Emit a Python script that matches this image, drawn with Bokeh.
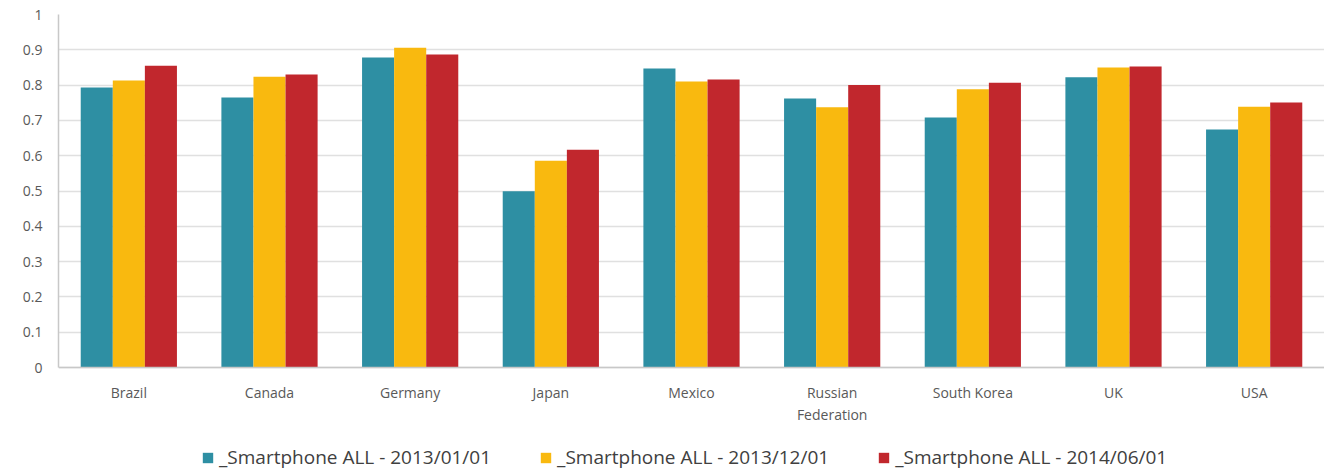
from bokeh.plotting import figure
from bokeh.models import ColumnDataSource, FactorRange, Range1d, FixedTicker, NumeralTickFormatter, Legend, LegendItem
from bokeh.transform import dodge
from bokeh.embed import file_html
from bokeh.resources import INLINE

countries = ["Brazil", "Canada", "Germany", "Japan", "Mexico", "Russian\nFederation", "South Korea", "UK", "USA"]
s2013_01 = [0.793, 0.765, 0.878, 0.499, 0.847, 0.762, 0.708, 0.822, 0.674]
s2013_12 = [0.813, 0.824, 0.906, 0.586, 0.810, 0.737, 0.788, 0.850, 0.739]
s2014_06 = [0.855, 0.830, 0.887, 0.617, 0.816, 0.800, 0.807, 0.853, 0.751]
series_names = ["_Smartphone ALL - 2013/01/01", "_Smartphone ALL - 2013/12/01", "_Smartphone ALL - 2014/06/01"]
y_ticks = [0, 0.1, 0.2, 0.3, 0.4, 0.5, 0.6, 0.7, 0.8, 0.9, 1.0]

colors = ["#2E8FA3", "#F9B90F", "#C1272D"]
FONT = "Open Sans"
TXT = "#595959"

source = ColumnDataSource(dict(country=countries, a=s2013_01, b=s2013_12, c=s2014_06))

# frame extends below zero so that axis labels and legend live inside the frame
y_bottom = -(104.0 / 353.0)
p = figure(x_range=FactorRange(*countries, range_padding=0), y_range=Range1d(y_bottom, 1),
           frame_width=1266, frame_height=457, output_backend="svg", toolbar_location=None,
           min_border_left=58, min_border_right=0, min_border_top=14, min_border_bottom=0)

bw = 0.228
r1 = p.vbar(x=dodge("country", -bw, range=p.x_range), top="a", width=bw, source=source, color=colors[0], line_color=None)
r2 = p.vbar(x=dodge("country", 0.0, range=p.x_range), top="b", width=bw, source=source, color=colors[1], line_color=None)
r3 = p.vbar(x=dodge("country", bw, range=p.x_range), top="c", width=bw, source=source, color=colors[2], line_color=None)

p.outline_line_color = None
p.xgrid.grid_line_color = None
p.ygrid.grid_line_color = "#E0E0E0"
p.ygrid.grid_line_width = 1.5
p.yaxis.ticker = FixedTicker(ticks=y_ticks)
p.ygrid.ticker = FixedTicker(ticks=y_ticks)
p.yaxis.formatter = NumeralTickFormatter(format="0.[0]")
p.yaxis.bounds = (0, 1)
p.xaxis.fixed_location = 0

for ax in (p.xaxis, p.yaxis):
    ax.axis_line_color = "#C8C8C8"
    ax.axis_line_width = 1.5
    ax.major_tick_line_color = None
    ax.minor_tick_line_color = None
    ax.major_label_text_font = FONT
    ax.major_label_text_font_size = "14px"
    ax.major_label_text_color = TXT
p.yaxis.major_label_standoff = 10
p.xaxis.major_label_standoff = 9

legend = Legend(items=[LegendItem(label=series_names[0], renderers=[r1]),
                       LegendItem(label=series_names[1], renderers=[r2]),
                       LegendItem(label=series_names[2], renderers=[r3])],
                orientation="horizontal", location=(143, 1),
                label_text_font=FONT, label_text_font_size="19px", label_text_color="#404040",
                glyph_width=13, glyph_height=13, spacing=48, label_standoff=5,
                border_line_color=None, background_fill_alpha=0, margin=0, padding=0)
p.add_layout(legend, "center")

open("out.html", "w").write(file_html(p, INLINE))
